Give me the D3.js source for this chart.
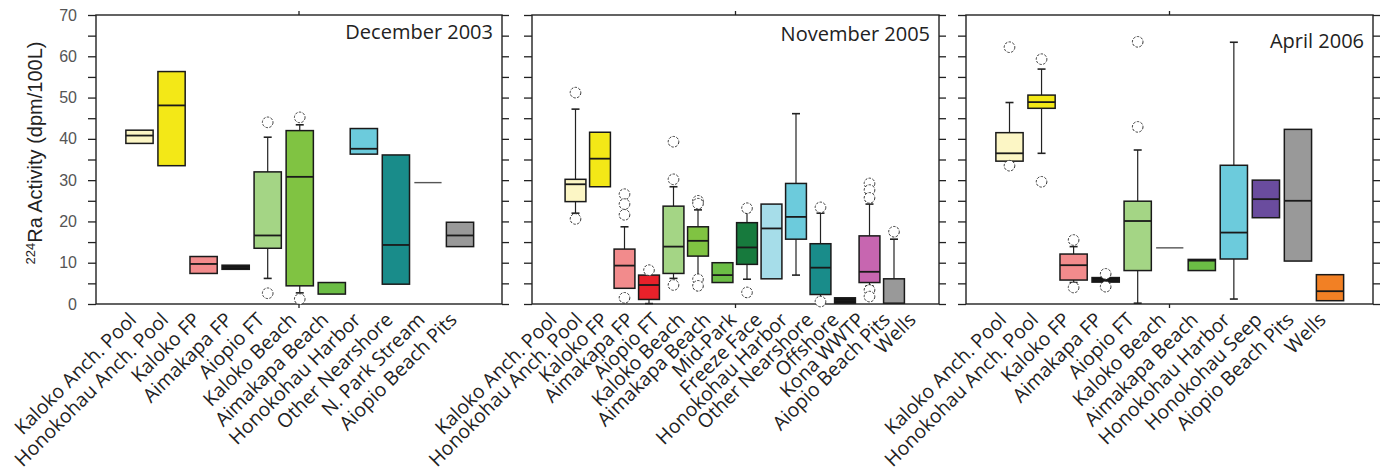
<!DOCTYPE html>
<html>
<head>
<meta charset="utf-8">
<script src="https://cdn.jsdelivr.net/npm/d3@7"></script>
<style>
  body { margin: 0; background: #fff; }
  svg { display: block; }
  .tick text { font-family: "Liberation Sans", Arial, sans-serif; font-size: 16px; fill: #555; }
  .site { font-family: "Open Sans", sans-serif; font-size: 19.5px; fill: #222; }
  .title { font-family: "Open Sans", sans-serif; font-size: 20px; fill: #222; }
</style>
</head>
<body>
<svg id="chart" width="1390" height="473"></svg>
<script>
// y axis
const yTicks = d3.range(0, 71, 5);

// December 2003
const dec03Sites = ["Kaloko Anch. Pool", "Honokohau Anch. Pool", "Kaloko FP", "Aimakapa FP", "Aiopio FT",
  "Kaloko Beach", "Aimakapa Beach", "Honokohau Harbor", "Other Nearshore", "N. Park Stream", "Aiopio Beach Pits"];
const dec03Q1  = [38.9, 33.5, 7.4, 8.4, 13.5, 4.4, 2.4, 36.3, 4.8, 29.4, 13.9];
const dec03Med = [40.8, 48.1, 9.7, 8.9, 16.6, 30.8, null, 37.6, 14.3, 29.4, 16.6];
const dec03Q3  = [42.1, 56.3, 11.5, 9.4, 32.0, 42.0, 5.2, 42.5, 36.1, 29.4, 19.8];
const dec03Lo  = [null, null, null, null, 6.2, 2.7, null, null, null, null, null];
const dec03Hi  = [null, null, null, null, 40.4, 43.4, null, null, null, null, null];
const dec03Out = [[], [], [], [], [44.0, 2.6], [45.2, 1.2], [], [], [], [], []];

// November 2005
const nov05Sites = ["Kaloko Anch. Pool", "Honokohau Anch. Pool", "Kaloko FP", "Aimakapa FP", "Aiopio FT",
  "Kaloko Beach", "Aimakapa Beach", "Mid-Park", "Freeze Face", "Honokohau Harbor", "Other Nearshore",
  "Offshore", "Kona WWTP", "Aiopio Beach Pits", "Wells"];
const nov05Q1  = [24.8, 28.4, 3.8, 1.1, 7.4, 11.6, 5.2, 9.6, 6.1, 15.7, 2.3, 0.2, 5.2, 0.2, null];
const nov05Med = [29.0, 35.2, 9.3, 4.6, 13.9, 15.3, 7.0, 13.7, 18.3, 21.1, 8.8, 0.8, 7.8, null, null];
const nov05Q3  = [30.2, 41.6, 13.3, 7.0, 23.7, 18.7, 10.0, 19.7, 24.2, 29.2, 14.6, 1.5, 16.5, 6.1, null];
const nov05Lo  = [22.0, null, null, 0.1, 6.2, 6.6, null, 6.0, null, 7.0, 0.5, null, 4.4, null, null];
const nov05Hi  = [47.2, null, 18.7, 7.6, 28.4, 22.8, null, 22.4, null, 46.1, 22.0, null, 24.2, 15.7, null];
const nov05Out = [[51.2, 20.6], [], [26.6, 24.2, 21.6, 1.5], [8.2], [39.3, 30.2, 4.6], [25.0, 24.3, 6.0, 4.4],
  [], [23.2, 2.8], [], [], [23.4, 0.6], [], [29.2, 27.6, 25.7, 3.4, 1.8], [17.5], []];

// April 2006
const apr06Sites = ["Kaloko Anch. Pool", "Honokohau Anch. Pool", "Kaloko FP", "Aimakapa FP", "Aiopio FT",
  "Kaloko Beach", "Aimakapa Beach", "Honokohau Harbor", "Honokohau Seep", "Aiopio Beach Pits", "Wells"];
const apr06Q1  = [34.6, 47.4, 5.8, 5.3, 8.1, 13.6, 8.1, 10.9, 20.9, 10.4, 0.8];
const apr06Med = [36.5, 48.9, 9.4, 5.8, 20.1, 13.6, 10.5, 17.3, 25.4, 25.0, 3.1];
const apr06Q3  = [41.5, 50.6, 12.1, 6.4, 24.9, 13.6, 10.8, 33.6, 30.0, 42.3, 7.1];
const apr06Lo  = [34.0, 36.5, 5.2, null, 0.2, null, null, 1.2, null, null, null];
const apr06Hi  = [48.8, 56.9, 13.9, null, 37.3, null, null, 63.4, null, null, null];
const apr06Out = [[62.2, 33.5], [59.3, 29.6], [15.5, 4.0], [7.3, 4.2], [63.5, 42.9], [], [], [], [], [], []];

const siteColor = {
  "Kaloko Anch. Pool": "#fcf6c5",
  "Honokohau Anch. Pool": "#f3e817",
  "Kaloko FP": "#f28b8c",
  "Aimakapa FP": "#e8212a",
  "Aiopio FT": "#a4d585",
  "Kaloko Beach": "#80c342",
  "Aimakapa Beach": "#6bbd45",
  "Mid-Park": "#177a3d",
  "Freeze Face": "#a6dde9",
  "Honokohau Harbor": "#6ccbdc",
  "Other Nearshore": "#198c8a",
  "N. Park Stream": "#888",
  "Offshore": "#111",
  "Kona WWTP": "#c766b0",
  "Aiopio Beach Pits": "#999",
  "Wells": "#f28024",
  "Honokohau Seep": "#6a4c9e"
};

const panels = [
  { title: "December 2003", sites: dec03Sites, q1: dec03Q1, med: dec03Med, q3: dec03Q3, lo: dec03Lo, hi: dec03Hi, out: dec03Out,
    left: 96, right: 502, padL: 43.5, padR: 42, labPadL: 41.5, labPadR: 44, labels: true, titleY: 39 },
  { title: "November 2005", sites: nov05Sites, q1: nov05Q1, med: nov05Med, q3: nov05Q3, lo: nov05Lo, hi: nov05Hi, out: nov05Out,
    left: 532, right: 939, padL: 43.5, padR: 20.5, labPadL: 26, labPadR: 22, labels: false, titleY: 41 },
  { title: "April 2006", sites: apr06Sites, q1: apr06Q1, med: apr06Med, q3: apr06Q3, lo: apr06Lo, hi: apr06Hi, out: apr06Out,
    left: 966, right: 1373, padL: 43.5, padR: 43, labPadL: 41.5, labPadR: 46, labels: false, titleY: 48 }
];

const svg = d3.select("#chart");
const plotTop = 15, plotBottom = 304;
const y = d3.scaleLinear().domain([0, 70]).range([plotBottom, plotTop]);

panels.forEach(p => {
  const x = d3.scalePoint().domain(p.sites).range([p.left + p.padL, p.right - p.padR]);
  const xLab = d3.scalePoint().domain(p.sites).range([p.left + p.labPadL, p.right - p.labPadR]);
  const bw = x.step() * 0.85;
  const g = svg.append("g");

  const yl = d3.axisLeft(y).tickValues(yTicks).tickSize(8).tickPadding(11)
    .tickFormat(d => (p.labels && d % 10 === 0) ? d : "");
  const yr = d3.axisRight(y).tickValues(yTicks).tickSize(7).tickFormat("");

  g.append("g").attr("transform", `translate(${p.left},0)`).call(yl)
    .call(a => a.select(".domain").remove())
    .selectAll("line").attr("stroke", "#222").attr("stroke-width", 1.3);
  g.append("g").attr("transform", `translate(${p.right},0)`).call(yr)
    .call(a => a.select(".domain").remove())
    .selectAll("line").attr("stroke", "#222").attr("stroke-width", 1.3);

  // frame
  g.append("rect")
    .attr("x", p.left).attr("y", plotTop)
    .attr("width", p.right - p.left).attr("height", plotBottom - plotTop)
    .attr("fill", "none").attr("stroke", "#222").attr("stroke-width", 1.4);

  const mid = (p.left + p.right) / 2;
  g.append("line").attr("x1", mid).attr("x2", mid).attr("y1", plotTop - 4).attr("y2", plotTop)
    .attr("stroke", "#222").attr("stroke-width", 1.3);
  g.append("line").attr("x1", mid).attr("x2", mid).attr("y1", plotBottom).attr("y2", plotBottom + 4)
    .attr("stroke", "#222").attr("stroke-width", 1.3);

  g.append("text").attr("class", "title")
    .attr("x", p.right - 9).attr("y", p.titleY)
    .attr("text-anchor", "end").text(p.title);

  const rows = p.sites.map((s, i) => ({
    site: s, q1: p.q1[i], med: p.med[i], q3: p.q3[i], lo: p.lo[i], hi: p.hi[i], out: p.out[i]
  })).filter(d => d.q1 != null);

  const box = g.selectAll(".box").data(rows).join("g").attr("class", "box");

  // whiskers
  box.filter(d => d.hi != null).each(function (d) {
    const s = d3.select(this), cx = x(d.site);
    s.append("line").attr("x1", cx).attr("x2", cx).attr("y1", y(d.q3)).attr("y2", y(d.hi))
      .attr("stroke", "#222").attr("stroke-width", 1.2);
    s.append("line").attr("x1", cx - 4).attr("x2", cx + 4).attr("y1", y(d.hi)).attr("y2", y(d.hi))
      .attr("stroke", "#222").attr("stroke-width", 1.6);
  });
  box.filter(d => d.lo != null).each(function (d) {
    const s = d3.select(this), cx = x(d.site);
    s.append("line").attr("x1", cx).attr("x2", cx).attr("y1", y(d.q1)).attr("y2", y(d.lo))
      .attr("stroke", "#222").attr("stroke-width", 1.2);
    s.append("line").attr("x1", cx - 4).attr("x2", cx + 4).attr("y1", y(d.lo)).attr("y2", y(d.lo))
      .attr("stroke", "#222").attr("stroke-width", 1.6);
  });

  // boxes
  box.filter(d => d.q3 > d.q1).append("rect")
    .attr("x", d => x(d.site) - bw / 2)
    .attr("y", d => y(d.q3))
    .attr("width", bw)
    .attr("height", d => y(d.q1) - y(d.q3))
    .attr("fill", d => (y(d.q1) - y(d.q3) < 6) ? "#111" : siteColor[d.site])
    .attr("stroke", "#1a1a1a").attr("stroke-width", 1.5);

  box.filter(d => d.q3 > d.q1 && d.med != null).append("line")
    .attr("x1", d => x(d.site) - bw / 2).attr("x2", d => x(d.site) + bw / 2)
    .attr("y1", d => y(d.med)).attr("y2", d => y(d.med))
    .attr("stroke", "#1a1a1a").attr("stroke-width", 1.8);

  // single values
  box.filter(d => d.q3 === d.q1).append("line")
    .attr("x1", d => x(d.site) - bw / 2).attr("x2", d => x(d.site) + bw / 2)
    .attr("y1", d => y(d.med)).attr("y2", d => y(d.med))
    .attr("stroke", "#555").attr("stroke-width", 1.4);

  // outliers
  box.selectAll("circle").data(d => d.out.map(v => ({ site: d.site, v }))).join("circle")
    .attr("cx", d => x(d.site)).attr("cy", d => y(d.v)).attr("r", 5.3)
    .attr("fill", "#fff").attr("stroke", "#333").attr("stroke-width", 1)
    .attr("stroke-dasharray", "2.5,1.4");

  // category labels
  g.selectAll(".site").data(p.sites).join("text").attr("class", "site")
    .attr("transform", d => `translate(${xLab(d)},${plotBottom + 17}) rotate(-45)`)
    .attr("text-anchor", "end")
    .text(d => d);
});

// y axis title
const yt = svg.append("text")
  .attr("transform", "translate(42,153) rotate(-90)")
  .attr("text-anchor", "middle")
  .style("font-family", "'Liberation Sans', Arial, sans-serif")
  .style("font-size", "20px").attr("fill", "#222");
yt.append("tspan").style("font-size", "13px").attr("dy", -7).text("224");
yt.append("tspan").attr("dy", 7).text("Ra Activity (dpm/100L)");
</script>
</body>
</html>
